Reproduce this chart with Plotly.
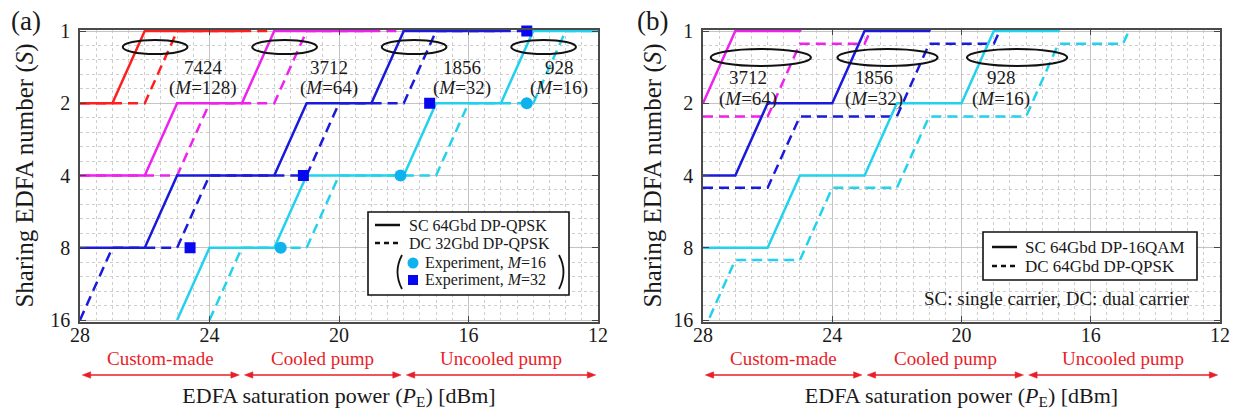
import numpy as np
import plotly.graph_objects as go

W, H = 1244, 418
FONT = "Liberation Serif"

# ---------------- data: panel (a) ----------------
a_red_sc_x = [28, 27, 26, 23, 22]
a_red_sc_s = [2, 2, 1, 1, 0.5]
a_red_dc_x = [28, 26, 25, 22, 21]
a_red_dc_s = [2, 2, 1, 1, 0.5]
a_mag_sc_x = [28, 26, 25, 23, 22, 19, 18]
a_mag_sc_s = [4, 4, 2, 2, 1, 1, 0.5]
a_mag_dc_x = [28, 25, 24, 22, 21, 18, 17]
a_mag_dc_s = [4, 4, 2, 2, 1, 1, 0.5]
a_blu_sc_x = [28, 26, 25, 22, 21, 19, 18, 15, 14]
a_blu_sc_s = [8, 8, 4, 4, 2, 2, 1, 1, 0.5]
a_blu_dc_x = [28, 27, 25, 24, 21, 20, 18, 17, 14, 13]
a_blu_dc_s = [16, 8, 8, 4, 4, 2, 2, 1, 1, 0.5]
a_cya_sc_x = [25, 24, 22, 21, 18, 17, 15, 14, 12]
a_cya_sc_s = [16, 8, 8, 4, 4, 2, 2, 1, 1]
a_cya_dc_x = [24, 23, 21, 20, 17, 16, 14, 13, 12]
a_cya_dc_s = [16, 8, 8, 4, 4, 2, 2, 1, 1]
exp_m16_x = [21.8, 18.1, 14.2]
exp_m16_s = [8, 4, 2]
exp_m32_x = [24.6, 21.1, 17.2, 14.2]
exp_m32_s = [8, 4, 2, 1]

# ---------------- data: panel (b) ----------------
b_mag_sc_x = [28, 27, 25, 24]
b_mag_sc_s = [2, 1, 1, 0.5]
b_mag_dc_x = [28, 26, 25, 23, 22]
b_mag_dc_s = [2.27, 2.27, 1.13, 1.13, 0.57]
b_blu_sc_x = [28, 27, 26, 24, 23, 21, 20]
b_blu_sc_s = [4, 4, 2, 2, 1, 1, 0.5]
b_blu_dc_x = [28, 26, 25, 22, 21, 19, 18]
b_blu_dc_s = [4.5, 4.5, 2.27, 2.27, 1.13, 1.13, 0.57]
b_cya_sc_x = [28, 26, 25, 23, 22, 20, 19, 17, 16]
b_cya_sc_s = [8, 8, 4, 4, 2, 2, 1, 1, 0.5]
b_cya_dc_x = [28, 27, 25, 24, 22, 21, 18, 17, 15, 14]
b_cya_dc_s = [18, 9, 9, 4.5, 4.5, 2.27, 2.27, 1.13, 1.13, 0.57]

x_ticks = [28, 24, 20, 16, 12]
y_ticks = [1, 2, 4, 8, 16]
y_ticktext = ["1", "2", "4", "8", "16"]

x_title = "EDFA saturation power (<i>P</i><sub>E</sub>) [dBm]"
y_title = "Sharing EDFA number (<i>S</i>)"

a_groups = ["7424", "3712", "1856", "928"]
a_group_m = ["128", "64", "32", "16"]
b_groups = ["3712", "1856", "928"]
b_group_m = ["64", "32", "16"]

regions = ["Custom-made", "Cooled pump", "Uncooled pump"]
region_edges = [28, 23, 18, 12]

legend_a = ["SC 64Gbd DP-QPSK", "DC 32Gbd DP-QPSK",
            "Experiment, <i>M</i>=16", "Experiment, <i>M</i>=32"]
legend_b = ["SC 64Gbd DP-16QAM", "DC 64Gbd DP-QPSK"]

# ---------------- styles ----------------
RED = "#FF1E1E"
MAG = "#EE22EE"
BLU = "#1A1ADC"
CYA = "#22D2EC"
CYA_MK = "#10B2EE"
BLU_MK = "#0808F0"
TXT_RED = "#E81E28"
INK = "#1a1a1a"
DASH = "10px,6px"
LW = 2.5


def px(xp):
    return xp / W


def py(yp):
    return 1 - yp / H


fig = go.Figure()


def add_line(x, s, color, dashed, xa, ya):
    fig.add_trace(go.Scatter(
        x=x, y=s, mode="lines", xaxis=xa, yaxis=ya,
        line=dict(color=color, width=LW, dash=DASH if dashed else "solid"),
        hoverinfo="skip", showlegend=False))


# panel (a)
for x, s, c, d in [
    (a_red_dc_x, a_red_dc_s, RED, True), (a_red_sc_x, a_red_sc_s, RED, False),
    (a_mag_dc_x, a_mag_dc_s, MAG, True), (a_mag_sc_x, a_mag_sc_s, MAG, False),
    (a_blu_dc_x, a_blu_dc_s, BLU, True), (a_blu_sc_x, a_blu_sc_s, BLU, False),
    (a_cya_dc_x, a_cya_dc_s, CYA, True), (a_cya_sc_x, a_cya_sc_s, CYA, False),
]:
    add_line(x, s, c, d, "x", "y")

fig.add_trace(go.Scatter(x=exp_m16_x, y=exp_m16_s, mode="markers", xaxis="x", yaxis="y",
                         marker=dict(symbol="circle", size=12, color=CYA_MK),
                         cliponaxis=False, showlegend=False, hoverinfo="skip"))
fig.add_trace(go.Scatter(x=exp_m32_x, y=exp_m32_s, mode="markers", xaxis="x", yaxis="y",
                         marker=dict(symbol="square", size=11, color=BLU_MK),
                         cliponaxis=False, showlegend=False, hoverinfo="skip"))

# panel (b)
for x, s, c, d in [
    (b_mag_dc_x, b_mag_dc_s, MAG, True), (b_mag_sc_x, b_mag_sc_s, MAG, False),
    (b_blu_dc_x, b_blu_dc_s, BLU, True), (b_blu_sc_x, b_blu_sc_s, BLU, False),
    (b_cya_dc_x, b_cya_dc_s, CYA, True), (b_cya_sc_x, b_cya_sc_s, CYA, False),
]:
    add_line(x, s, c, d, "x2", "y2")

# ---------------- axes ----------------
pad_px = 1.5
ypad = np.log10(16) / 289 * pad_px
ydom = [py(320 + pad_px), py(31 - pad_px)]
minor_y = [2 ** (0.2 * k) for k in range(1, 20) if k % 5]

xcommon = dict(range=[28, 12], tickvals=x_ticks, ticks="inside", ticklen=6, tickwidth=1.2,
               tickcolor="#444", mirror="ticks", showline=True, linewidth=1.5, linecolor="#4a4a4a",
               showgrid=True, gridcolor="#c4c4c4", gridwidth=1, zeroline=False, automargin=False,
               minor=dict(dtick=0.5, tick0=12, showgrid=True, gridcolor="#cdcdcd",
                          griddash="dot", gridwidth=1),
               ticklabelstandoff=-5,
               title=dict(text=x_title, font=dict(family=FONT, size=22, color=INK), standoff=42),
               tickfont=dict(family=FONT, size=20, color=INK), fixedrange=True)
ycommon = dict(type="log", range=[np.log10(16) + ypad, -ypad], tickvals=y_ticks, ticktext=y_ticktext,
               ticks="inside", ticklen=6, tickwidth=1.2, tickcolor="#444", mirror="ticks",
               showline=True, linewidth=1.5, linecolor="#4a4a4a", automargin=False,
               showgrid=True, gridcolor="#c4c4c4", gridwidth=1, zeroline=False,
               minor=dict(tickmode="array", tickvals=minor_y, showgrid=True, gridcolor="#cdcdcd",
                          griddash="dot", gridwidth=1),
               ticklabelstandoff=4,
               tickfont=dict(family=FONT, size=20, color=INK), domain=ydom, fixedrange=True)

fig.update_layout(
    width=W, height=H, margin=dict(l=0, r=0, t=0, b=0, pad=0, autoexpand=False),
    paper_bgcolor="white", plot_bgcolor="white", showlegend=False,
    xaxis=dict(domain=[px(80), px(598)], anchor="y", **xcommon),
    yaxis=dict(anchor="x", title=dict(text=y_title, font=dict(family=FONT, size=25, color=INK),
                                      standoff=10), **ycommon),
    xaxis2=dict(domain=[px(703), px(1220)], anchor="y2", **xcommon),
    yaxis2=dict(anchor="x2", title=dict(text=y_title, font=dict(family=FONT, size=25, color=INK),
                                        standoff=5), **ycommon),
)

shapes = []
ann = []


def text(x, y, t, size, xref="paper", color=INK, xanchor="center", angle=0):
    ann.append(dict(x=x, y=y, xref=xref, yref="paper", text=t, showarrow=False,
                    xanchor=xanchor, yanchor="middle", textangle=angle,
                    font=dict(family=FONT, size=size, color=color)))


# ellipses + group labels (a)
lab_a_x = [24.2, 20.3, 16.2, 13.2]
for i, (g, m, lx) in enumerate(zip(a_groups, a_group_m, lab_a_x)):
    c = 25.68 - 4 * i
    shapes.append(dict(type="circle", xref="x", yref="paper", x0=c + 1.0, x1=c - 1.0,
                       y0=py(54), y1=py(40), line=dict(color="#111", width=2)))
    text(lx, py(68), g, 19, xref="x")
    text(lx, py(88), "(<i>M</i>=%s)" % m, 19, xref="x")

# ellipses + group labels (b)
ell_b = [26.21, 22.29, 18.28]
lab_b_x = [26.61, 22.72, 18.77]
for g, m, c, lx in zip(b_groups, b_group_m, ell_b, lab_b_x):
    shapes.append(dict(type="circle", xref="x2", yref="paper", x0=c + 1.55, x1=c - 1.55,
                       y0=py(66), y1=py(49), line=dict(color="#111", width=2)))
    text(lx, py(78), g, 19, xref="x2")
    text(lx, py(99), "(<i>M</i>=%s)" % m, 19, xref="x2")

# regions below the x axes (red text + double arrows)
AH = 0.26  # arrow head length in dB
ay = py(375)
ah = 3.2 / H
for xr in ["x", "x2"]:
    for k, name in enumerate(regions):
        x0, x1 = region_edges[k], region_edges[k + 1]
        text((x0 + x1) / 2, py(358), name, 19, xref=xr, color=TXT_RED)
        a0 = x0 - (0.08 if k > 0 else 0.07)
        a1 = x1 + (0.08 if k < 2 else 0.07)
        shapes.append(dict(type="line", xref=xr, yref="paper", x0=a0 - AH * 0.6, x1=a1 + AH * 0.6,
                           y0=ay, y1=ay, line=dict(color=TXT_RED, width=1.5)))
        shapes.append(dict(type="path", xref=xr, yref="paper", fillcolor=TXT_RED,
                           line=dict(color=TXT_RED, width=0.5),
                           path="M %f,%f L %f,%f L %f,%f Z" % (a0, ay, a0 - AH, ay + ah, a0 - AH, ay - ah)))
        shapes.append(dict(type="path", xref=xr, yref="paper", fillcolor=TXT_RED,
                           line=dict(color=TXT_RED, width=0.5),
                           path="M %f,%f L %f,%f L %f,%f Z" % (a1, ay, a1 + AH, ay + ah, a1 + AH, ay - ah)))

# panel labels
text(px(26), py(21), "(a)", 27)
text(px(652), py(21), "(b)", 27)

# ---------- legend (a) ----------
shapes.append(dict(type="rect", xref="paper", yref="paper", x0=px(368), x1=px(569),
                   y0=py(295), y1=py(212), line=dict(color="#111", width=1.6), fillcolor="white"))
shapes.append(dict(type="line", xref="paper", yref="paper", x0=px(375), x1=px(400),
                   y0=py(225), y1=py(225), line=dict(color="#111", width=2.5)))
shapes.append(dict(type="line", xref="paper", yref="paper", x0=px(375), x1=px(400),
                   y0=py(243), y1=py(243), line=dict(color="#111", width=2.5, dash="5px,4px")))
shapes.append(dict(type="circle", xref="paper", yref="paper", x0=px(407.5), x1=px(418.5),
                   y0=py(268.5), y1=py(257.5), fillcolor=CYA_MK, line=dict(width=0)))
shapes.append(dict(type="rect", xref="paper", yref="paper", x0=px(408), x1=px(418),
                   y0=py(285), y1=py(275), fillcolor=BLU_MK, line=dict(width=0)))
# brackets
shapes.append(dict(type="path", xref="paper", yref="paper",
                   path="M %f,%f Q %f,%f %f,%f" % (px(402), py(255), px(393), py(272), px(402), py(289)),
                   line=dict(color="#111", width=1.8)))
shapes.append(dict(type="path", xref="paper", yref="paper",
                   path="M %f,%f Q %f,%f %f,%f" % (px(559), py(255), px(568), py(272), px(559), py(289)),
                   line=dict(color="#111", width=1.8)))
for t, lx, ly in zip(legend_a, [407, 407, 423, 423], [225, 243, 263, 280]):
    text(px(lx), py(ly), t, 16, xanchor="left")

# ---------- legend (b) ----------
shapes.append(dict(type="rect", xref="paper", yref="paper", x0=px(983), x1=px(1197),
                   y0=py(280), y1=py(232), line=dict(color="#111", width=1.6), fillcolor="white"))
shapes.append(dict(type="line", xref="paper", yref="paper", x0=px(992), x1=px(1017),
                   y0=py(247), y1=py(247), line=dict(color="#111", width=2.5)))
shapes.append(dict(type="line", xref="paper", yref="paper", x0=px(992), x1=px(1017),
                   y0=py(266), y1=py(266), line=dict(color="#111", width=2.5, dash="5px,4px")))
for t, ly in zip(legend_b, [247, 266]):
    text(px(1023), py(ly), t, 17, xanchor="left")
text(px(1057), py(298), "SC: single carrier, DC: dual carrier", 19)

fig.update_layout(shapes=shapes, annotations=ann)
fig.write_html("out.html", config={"displayModeBar": False},
               post_script="document.body.style.margin='0px';")
